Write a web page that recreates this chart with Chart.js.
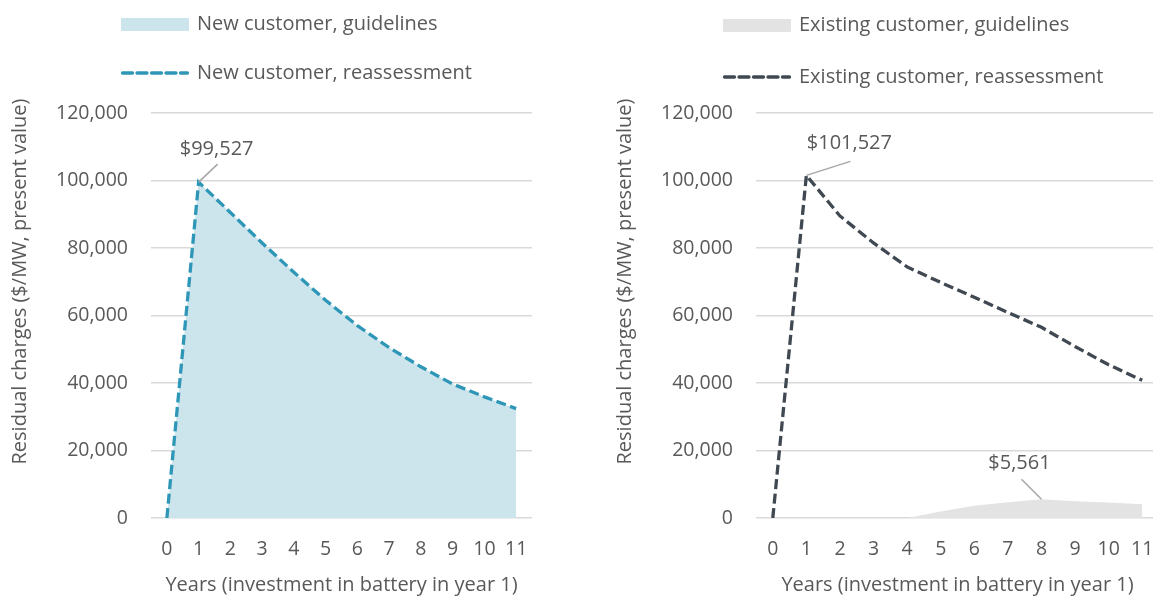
<!DOCTYPE html>
<html>
<head>
<meta charset="utf-8">
<script src="https://cdn.jsdelivr.net/npm/chart.js@4.4.1/dist/chart.umd.min.js"></script>
<style>
  html, body { margin: 0; padding: 0; background: #ffffff; overflow: hidden; width: 1153px; height: 598px; }
  .panel { position: absolute; top: 0; }
  #newChart { left: 0; }
  #existingChart { left: 605px; }
</style>
</head>
<body>
<canvas id="newChart" class="panel" width="560" height="598"></canvas>
<canvas id="existingChart" class="panel" width="576" height="598"></canvas>
<script>
// Years after connection (battery investment happens in year 1)
const years = ['0', '1', '2', '3', '4', '5', '6', '7', '8', '9', '10', '11'];

// Residual charges, $/MW present value
const newGuidelines         = [0, 99527, 90500, 81500, 72800, 64500, 57000, 50500, 44800, 39700, 35900, 32400];
const newReassessment       = [0, 99527, 90500, 81500, 72800, 64500, 57000, 50500, 44800, 39700, 35900, 32400];
const existingGuidelines    = [0, 0, 0, 0, 0, 1900, 3650, 4700, 5561, 5000, 4600, 4100];
const existingReassessment  = [0, 101527, 89500, 81500, 74400, 69800, 65400, 60900, 56500, 50800, 45400, 40800];

// Y axis ticks
const yTickMin = 0;
const yTickMax = 120000;
const yTickStep = 20000;

const FONT = "'Open Sans', 'Noto Sans', sans-serif";
const TEXT = '#595959';
const TEXT_SIZE = 20;
const TICK_SIZE = 19.5;
const Y_TITLE = 'Residual charges ($/MW, present value)';
const X_TITLE = 'Years (investment in battery in year 1)';

// Stacked legend drawn in the top-left corner of each panel
const panelLegend = {
  id: 'panelLegend',
  afterDraw(chart, args, opts) {
    const ctx = chart.ctx;
    ctx.save();
    opts.items.forEach(item => {
      const ds = chart.data.datasets[item.datasetIndex];
      const x = opts.x, y = item.y, w = opts.swatchWidth;
      if (ds.fill) {
        ctx.fillStyle = ds.backgroundColor;
        ctx.fillRect(x, y - 6.5, w, 13);
      } else {
        ctx.strokeStyle = ds.borderColor;
        ctx.lineWidth = ds.borderWidth;
        ctx.setLineDash(ds.borderDash);
        ctx.lineCap = 'round';
        ctx.beginPath();
        ctx.moveTo(x + 1.5, y);
        ctx.lineTo(x + w - 1.5, y);
        ctx.stroke();
        ctx.setLineDash([]);
      }
      ctx.fillStyle = TEXT;
      ctx.font = opts.fontSize + 'px ' + FONT;
      ctx.textAlign = 'left';
      ctx.textBaseline = 'middle';
      ctx.fillText(ds.label, x + w + opts.gap, y);
    });
    ctx.restore();
  }
};

// Vertical axis title, centred a little above the plot's midpoint
const valueAxisTitle = {
  id: 'valueAxisTitle',
  afterDraw(chart, args, opts) {
    const ctx = chart.ctx;
    const area = chart.chartArea;
    ctx.save();
    ctx.translate(opts.x, (area.top + area.bottom) / 2 + opts.shift);
    ctx.rotate(-Math.PI / 2);
    ctx.fillStyle = TEXT;
    ctx.font = opts.fontSize + 'px ' + FONT;
    ctx.textAlign = 'center';
    ctx.textBaseline = 'middle';
    ctx.fillText(opts.text, 0, 0);
    ctx.restore();
  }
};

// Value callouts with a short leader line
const valueCallouts = {
  id: 'valueCallouts',
  afterDatasetsDraw(chart, args, opts) {
    const ctx = chart.ctx;
    ctx.save();
    (opts.items || []).forEach(c => {
      const el = chart.getDatasetMeta(c.datasetIndex).data[c.index];
      const v = chart.data.datasets[c.datasetIndex].data[c.index];
      const x1 = el.x + c.dx, y1 = el.y + c.dy;
      ctx.strokeStyle = '#a6a6a6';
      ctx.lineWidth = 1.5;
      ctx.beginPath();
      ctx.moveTo(el.x, el.y);
      ctx.lineTo(x1, y1);
      ctx.stroke();
      ctx.fillStyle = TEXT;
      ctx.font = opts.fontSize + 'px ' + FONT;
      ctx.textAlign = 'center';
      ctx.textBaseline = 'middle';
      ctx.fillText('$' + v.toLocaleString('en-US'), x1 + c.tx, y1 + c.ty);
    });
    ctx.restore();
  }
};

function buildChart(id, cfg) {
  return new Chart(document.getElementById(id), {
    type: 'line',
    data: {
      labels: years,
      datasets: [
        {
          label: cfg.lineLabel,
          data: cfg.lineData,
          borderColor: cfg.lineColor,
          borderWidth: 3.3,
          borderDash: [10, 4.5],
          fill: false,
          pointRadius: 0,
          tension: 0,
          order: 0
        },
        {
          label: cfg.areaLabel,
          data: cfg.areaData,
          backgroundColor: cfg.areaColor,
          borderWidth: 0,
          fill: 'origin',
          pointRadius: 0,
          tension: 0,
          order: 1
        }
      ]
    },
    options: {
      responsive: false,
      animation: false,
      layout: { padding: { top: 113, right: cfg.padRight, bottom: 0, left: 0 } },
      plugins: {
        legend: { display: false },
        tooltip: { enabled: false },
        panelLegend: {
          x: cfg.legendX, swatchWidth: 68, gap: 8, fontSize: TEXT_SIZE,
          items: [ { datasetIndex: 1, y: cfg.legendY1 }, { datasetIndex: 0, y: cfg.legendY2 } ]
        },
        valueAxisTitle: { text: Y_TITLE, x: 20, shift: -34, fontSize: TEXT_SIZE },
        valueCallouts: { fontSize: TEXT_SIZE, items: cfg.callouts }
      },
      scales: {
        x: {
          type: 'category',
          offset: true,
          grid: { display: false },
          border: { display: false },
          ticks: { color: TEXT, font: { family: FONT, size: TICK_SIZE }, padding: 12, maxRotation: 0, autoSkip: false },
          title: { display: true, text: X_TITLE, color: TEXT, font: { family: FONT, size: TEXT_SIZE }, padding: { top: 4, bottom: 1 } },
          afterFit(scale) { scale.height = 80; }
        },
        y: {
          min: yTickMin,
          max: yTickMax,
          grid: { color: '#d9d9d9', lineWidth: 1.5, drawTicks: false },
          border: { display: false },
          ticks: { stepSize: yTickStep, color: TEXT, font: { family: FONT, size: TICK_SIZE }, padding: 23 },
          afterFit(scale) { scale.width = 151; }
        }
      }
    },
    plugins: [panelLegend, valueAxisTitle, valueCallouts]
  });
}

buildChart('newChart', {
  lineLabel: 'New customer, reassessment',
  lineData: newReassessment,
  lineColor: '#2e96b6',
  areaLabel: 'New customer, guidelines',
  areaData: newGuidelines,
  areaColor: '#cce4ec',
  padRight: 28,
  legendX: 121, legendY1: 24.5, legendY2: 73,
  callouts: [ { datasetIndex: 0, index: 1, dx: 19, dy: -18, tx: -1, ty: -15 } ]
});

buildChart('existingChart', {
  lineLabel: 'Existing customer, reassessment',
  lineData: existingReassessment,
  lineColor: '#404852',
  areaLabel: 'Existing customer, guidelines',
  areaData: existingGuidelines,
  areaColor: '#e3e3e3',
  padRight: 22,
  legendX: 118, legendY1: 25.5, legendY2: 77,
  callouts: [
    { datasetIndex: 0, index: 1, dx: 44, dy: -14, tx: -1, ty: -18 },
    { datasetIndex: 1, index: 8, dx: -20, dy: -20, tx: -2, ty: -16 }
  ]
});
</script>
</body>
</html>
